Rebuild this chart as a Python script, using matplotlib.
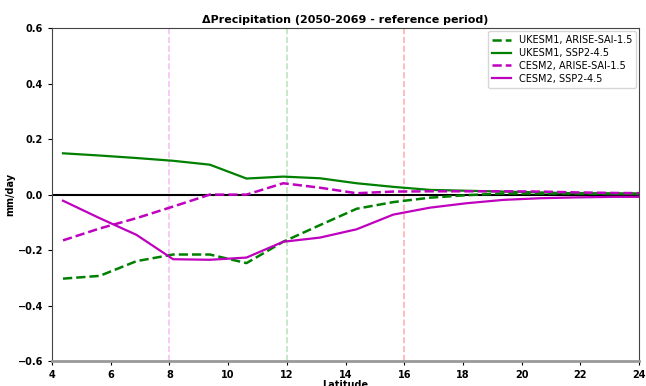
import numpy as np
import matplotlib
matplotlib.use("Agg")
import matplotlib.pyplot as plt

# latitude grid (deg N)
lat = [4.375, 5.625, 6.875, 8.125, 9.375, 10.625, 11.875, 13.125, 14.375,
       15.625, 16.875, 18.125, 19.375, 20.625, 21.875, 23.125, 24.375]

# change in precipitation, mm/day
ukesm_arise = [-0.303, -0.293, -0.240, -0.216, -0.216, -0.247, -0.170, -0.110, -0.051,
               -0.027, -0.011, -0.002, 0.004, 0.004, 0.004, 0.004, 0.004]
ukesm_ssp = [0.149, 0.141, 0.132, 0.122, 0.108, 0.058, 0.065, 0.059, 0.041,
             0.028, 0.017, 0.014, 0.011, 0.008, 0.005, 0.003, 0.002]
cesm_arise = [-0.165, -0.122, -0.085, -0.043, 0.0, 0.0, 0.041, 0.025, 0.005,
              0.011, 0.012, 0.012, 0.012, 0.011, 0.008, 0.006, 0.005]
cesm_ssp = [-0.022, -0.085, -0.145, -0.233, -0.235, -0.227, -0.170, -0.155, -0.125,
            -0.072, -0.047, -0.031, -0.019, -0.013, -0.010, -0.008, -0.008]

fig = plt.figure(figsize=(6.46, 3.86), dpi=100)
ax = fig.add_axes([0.0805, 0.0648, 0.909, 0.862])

ax.axvline(8, color='violet', ls='--', lw=1.2, alpha=0.5)
ax.axvline(12, color='tab:green', ls='--', lw=1.2, alpha=0.3)
ax.axvline(16, color='red', ls='--', lw=1.2, alpha=0.3)
ax.axhline(0, color='black', lw=1.5)

ax.plot(lat, ukesm_arise, color='green', ls='--', lw=1.8, label='UKESM1, ARISE-SAI-1.5')
ax.plot(lat, ukesm_ssp, color='green', lw=1.6, label='UKESM1, SSP2-4.5')
ax.plot(lat, cesm_arise, color='m', ls='--', lw=1.8, label='CESM2, ARISE-SAI-1.5')
ax.plot(lat, cesm_ssp, color='m', lw=1.6, label='CESM2, SSP2-4.5')

ax.set_xlim(4, 24)
ax.set_ylim(-0.6, 0.6)
ax.set_xticks(np.arange(4, 25, 2))
ax.set_yticks(np.arange(-0.6, 0.61, 0.2))
for lbl in ax.get_xticklabels() + ax.get_yticklabels():
    lbl.set_fontweight('bold')
ax.tick_params(labelsize=7, length=3)

for s in ['left', 'right', 'top']:
    ax.spines[s].set_color('#444444')
ax.spines['bottom'].set_color('#999999')
ax.spines['bottom'].set_linewidth(2)

ax.set_title('\u0394Precipitation (2050-2069 - reference period)', fontsize=8, fontweight='bold', pad=4)
ax.set_xlabel('Latitude', fontsize=7, fontweight='bold', labelpad=0)
ax.set_ylabel('mm/day', fontsize=7, fontweight='bold', labelpad=2)

ax.legend(loc='upper right', fontsize=7, handlelength=2.0, labelspacing=0.3,
          borderaxespad=0.3)

fig.savefig('out.png', dpi=100)
